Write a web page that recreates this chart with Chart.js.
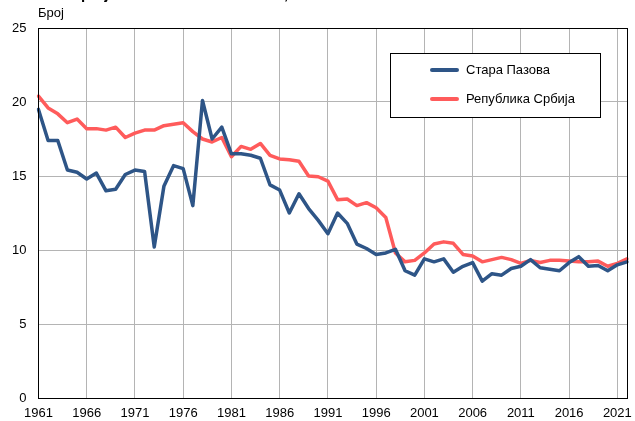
<!DOCTYPE html>
<html>
<head>
<meta charset="utf-8">
<script src="https://cdn.jsdelivr.net/npm/chart.js@4.4.0/dist/chart.umd.min.js"></script>
<style>
  body { margin: 0; background: #fff; }
  #wrap { width: 635px; height: 421px; }
</style>
</head>
<body>
<div id="wrap"><canvas id="graph" width="635" height="421"></canvas></div>
<script>
//////////////////////////////// data \\\\\\\\\\\\\\\\\\\\\\\\\\\\\\\\\

var years = [];
for (var y = 1961; y <= 2022; y++) years.push(String(y));

var staraPazova = [
  19.5, 17.4, 17.4, 15.4, 15.25, 14.8, 15.2, 14.0, 14.1, 15.1,
  15.4, 15.3, 10.2, 14.3, 15.7, 15.5, 13.0, 20.1, 17.5, 18.3,
  16.5, 16.5, 16.4, 16.2, 14.4, 14.05, 12.5, 13.8, 12.8, 12.0,
  11.1, 12.5, 11.8, 10.4, 10.1, 9.7, 9.8, 10.05, 8.6, 8.3,
  9.4, 9.2, 9.4, 8.5, 8.9, 9.15, 7.9, 8.4, 8.3, 8.75,
  8.9, 9.35, 8.8, 8.7, 8.6, 9.15, 9.55, 8.9, 8.95, 8.6,
  9.0, 9.2
];

var srbija = [
  20.4, 19.6, 19.2, 18.6, 18.85, 18.2, 18.2, 18.1, 18.3, 17.6,
  17.9, 18.1, 18.1, 18.4, 18.5, 18.6, 18.0, 17.5, 17.3, 17.6,
  16.3, 17.0, 16.8, 17.2, 16.4, 16.15, 16.1, 16.0, 15.0, 14.95,
  14.65, 13.4, 13.45, 13.0, 13.2, 12.85, 12.2, 9.8, 9.2, 9.3,
  9.8, 10.4, 10.55, 10.45, 9.7, 9.6, 9.2, 9.35, 9.5, 9.35,
  9.1, 9.3, 9.15, 9.3, 9.3, 9.25, 9.2, 9.2, 9.25, 8.9,
  9.1, 9.4
];

var seriesNames = ['Стара Пазова', 'Република Србија'];
var seriesColors = ['#2E5587', '#FF5B5B'];
var yTicks = [0, 5, 10, 15, 20, 25];

//////////////////////////////// plugins \\\\\\\\\\\\\\\\\\\\\\\\\\\\\\\\\

// frame, axis title, cut-off title and the legend box
var extras = {
  id: 'extras',
  afterDraw: function (chart) {
    var c = chart.ctx;
    var a = chart.chartArea;
    c.save();
    c.strokeStyle = '#000';
    c.lineWidth = 1;
    c.strokeRect(Math.round(a.left) + 0.5, Math.round(a.top) + 0.5,
      Math.round(a.right - a.left), Math.round(a.bottom - a.top));

    c.fillStyle = '#000';
    c.font = 'bold 15px "Liberation Sans", Arial, sans-serif';
    c.textBaseline = 'alphabetic';
    c.fillText('Живорођени на 1000 становника, 1961–2022', 40, -1);

    c.font = '13px "Liberation Sans", Arial, sans-serif';
    c.textBaseline = 'middle';
    c.fillText('Број', 38, 13);

    // legend
    var lx = 390, ly = 53, lw = 210, lh = 64;
    c.fillStyle = '#fff';
    c.fillRect(lx, ly, lw, lh);
    c.strokeRect(lx + 0.5, ly + 0.5, lw, lh);
    for (var i = 0; i < seriesNames.length; i++) {
      var yy = ly + 17 + i * 29;
      c.strokeStyle = seriesColors[i];
      c.lineWidth = 4;
      c.lineCap = 'round';
      c.beginPath();
      c.moveTo(432, yy);
      c.lineTo(457, yy);
      c.stroke();
      c.fillStyle = '#000';
      c.fillText(seriesNames[i], 466, yy);
    }
    c.restore();
  }
};

//////////////////////////////// chart \\\\\\\\\\\\\\\\\\\\\\\\\\\\\\\\\

var datasets = [];
var values = [staraPazova, srbija];
for (var i = 0; i < seriesNames.length; i++) {
  datasets.push({
    label: seriesNames[i],
    data: values[i],
    borderColor: seriesColors[i],
    backgroundColor: seriesColors[i],
    borderWidth: 3.5,
    pointRadius: 0,
    tension: 0,
    borderJoinStyle: 'round',
    borderCapStyle: 'round'
  });
}
// red line is drawn under the blue one
datasets[0].order = 0;
datasets[1].order = 1;

Chart.defaults.font.family = '"Liberation Sans", Arial, sans-serif';
Chart.defaults.font.size = 13;
Chart.defaults.color = '#000';

var ctx = document.getElementById('graph').getContext('2d');
var myChart = new Chart(ctx, {
  type: 'line',
  data: { labels: years, datasets: datasets },
  plugins: [extras],
  options: {
    responsive: false,
    animation: false,
    layout: { padding: { top: 28, right: 8, left: 0, bottom: 0 } },
    plugins: {
      legend: { display: false },
      tooltip: { enabled: false }
    },
    scales: {
      x: {
        offset: false,
        afterFit: function (s) { s.height = 23; },
        grid: {
          drawTicks: false,
          color: function (g) {
            return (g.index % 5 === 0) ? '#b4b4b4' : 'rgba(0,0,0,0)';
          },
          lineWidth: 1
        },
        border: { display: true, color: '#000' },
        ticks: {
          autoSkip: false,
          maxRotation: 0,
          padding: 8,
          callback: function (v, idx) {
            return (idx % 5 === 0) ? years[idx] : '';
          }
        }
      },
      y: {
        min: 0,
        max: 25,
        afterBuildTicks: function (s) {
          s.ticks = yTicks.map(function (v) { return { value: v }; });
        },
        grid: { drawTicks: false, color: '#b4b4b4' },
        border: { display: true, color: '#000' },
        ticks: { padding: 12 }
      }
    }
  }
});
</script>
</body>
</html>
